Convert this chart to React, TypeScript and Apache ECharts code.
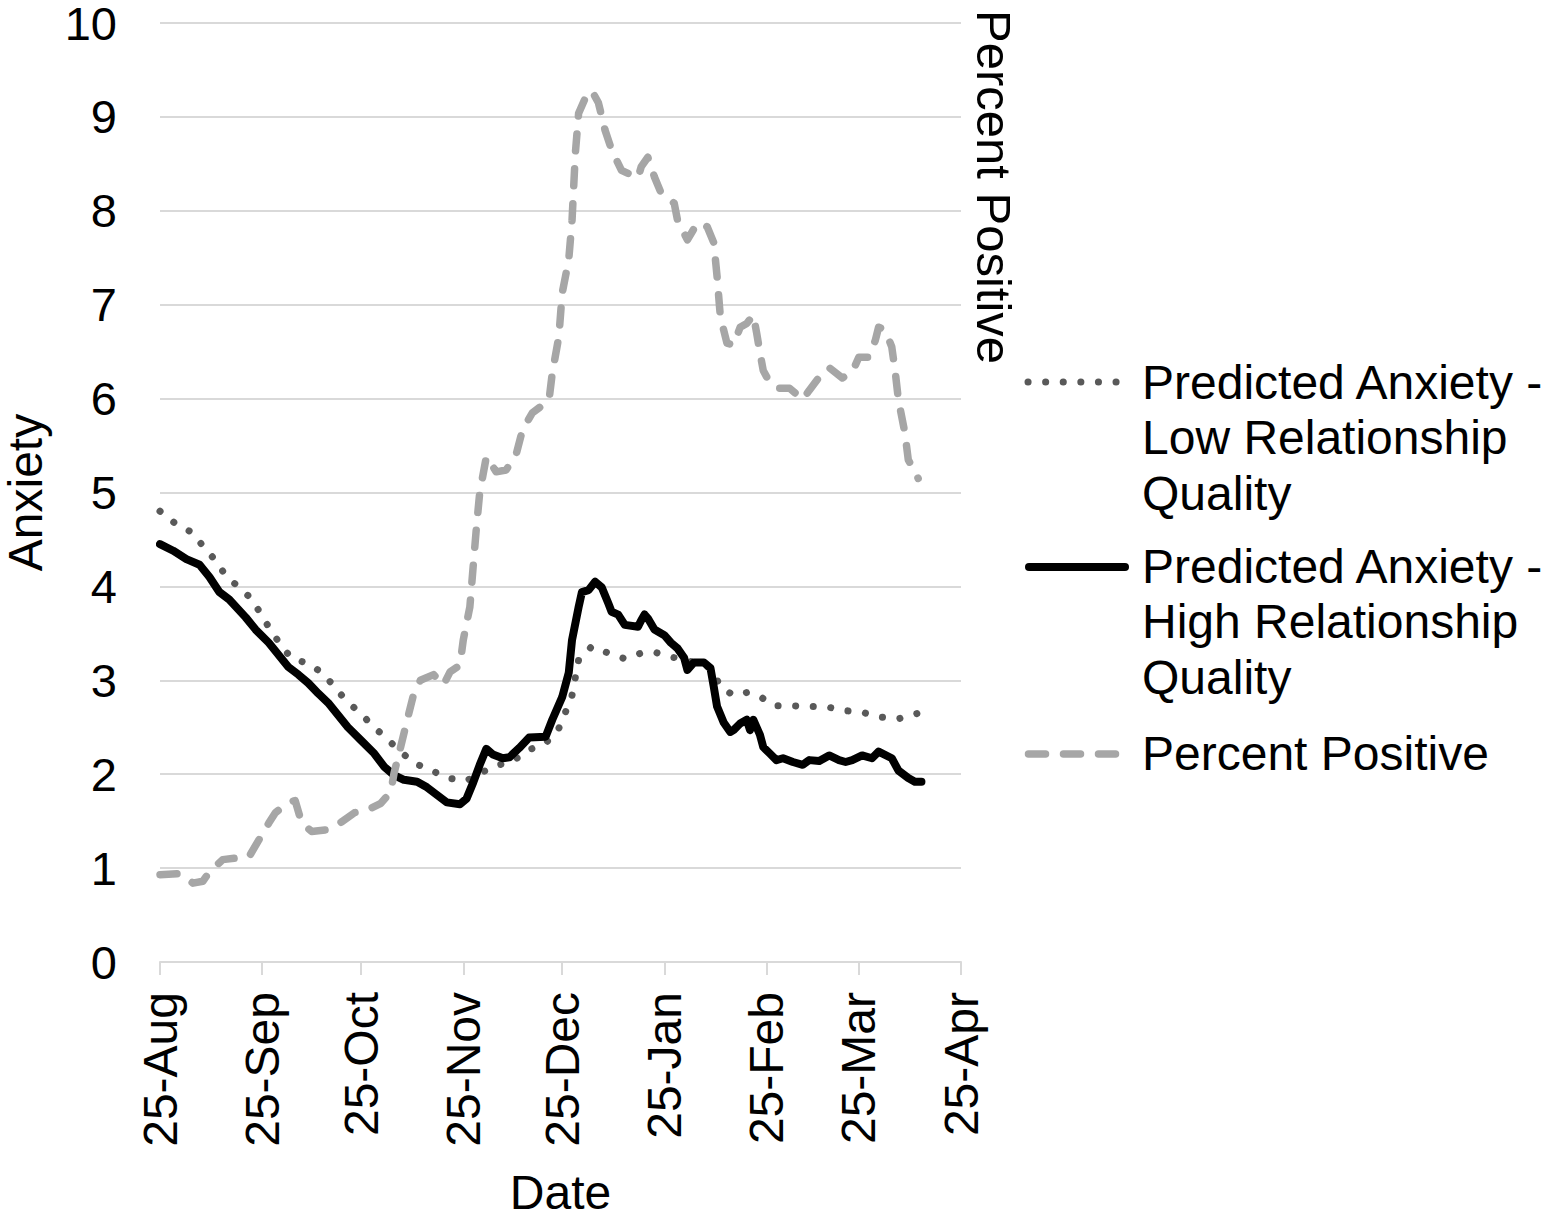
import React, { useEffect, useRef } from "react";
import * as echarts from "echarts";

const FONT = "'Liberation Sans', Arial, Helvetica, sans-serif";

const TICK_DATES = ["2020-08-25", "2020-09-25", "2020-10-25", "2020-11-25", "2020-12-25", "2021-01-25", "2021-02-25", "2021-03-25", "2021-04-25"];
const TICK_LABELS = ["25-Aug", "25-Sep", "25-Oct", "25-Nov", "25-Dec", "25-Jan", "25-Feb", "25-Mar", "25-Apr"];

const SERIES_NAMES = [
  "Predicted Anxiety -\nLow Relationship\nQuality",
  "Predicted Anxiety -\nHigh Relationship\nQuality",
  "Percent Positive",
];

const LOW_RQ: [string, number][] = [
  ["2020-08-25", 4.80], ["2020-08-30", 4.66], ["2020-09-04", 4.57], ["2020-09-07", 4.43],
  ["2020-09-11", 4.27], ["2020-09-14", 4.11], ["2020-09-18", 3.99], ["2020-09-22", 3.86],
  ["2020-09-25", 3.68], ["2020-09-28", 3.51], ["2020-10-01", 3.36], ["2020-10-04", 3.23],
  ["2020-10-09", 3.18], ["2020-10-14", 3.06], ["2020-10-17", 2.92], ["2020-10-21", 2.77],
  ["2020-10-25", 2.64], ["2020-10-29", 2.50], ["2020-11-02", 2.37], ["2020-11-06", 2.24],
  ["2020-11-10", 2.12], ["2020-11-16", 2.03], ["2020-11-20", 1.96], ["2020-11-26", 1.93],
  ["2020-11-30", 2.01], ["2020-12-05", 2.09], ["2020-12-10", 2.14], ["2020-12-15", 2.26],
  ["2020-12-20", 2.33], ["2020-12-24", 2.49], ["2020-12-26", 2.66], ["2020-12-28", 2.84],
  ["2020-12-29", 3.03], ["2020-12-30", 3.22], ["2021-01-03", 3.36], ["2021-01-08", 3.29],
  ["2021-01-13", 3.23], ["2021-01-18", 3.29], ["2021-01-22", 3.30], ["2021-01-27", 3.25],
  ["2021-02-02", 3.20], ["2021-02-07", 3.15], ["2021-02-09", 3.08], ["2021-02-11", 2.93],
  ["2021-02-15", 2.84], ["2021-02-19", 2.87], ["2021-02-23", 2.83], ["2021-02-27", 2.73],
  ["2021-03-04", 2.73], ["2021-03-10", 2.72], ["2021-03-15", 2.72], ["2021-03-20", 2.68],
  ["2021-03-26", 2.66], ["2021-03-31", 2.61], ["2021-04-06", 2.59], ["2021-04-12", 2.65],
];

const HIGH_RQ: [string, number][] = [
  ["2020-08-25", 4.45], ["2020-08-29", 4.38], ["2020-09-02", 4.29], ["2020-09-06", 4.23],
  ["2020-09-09", 4.10], ["2020-09-12", 3.94], ["2020-09-15", 3.86], ["2020-09-20", 3.67],
  ["2020-09-23", 3.54], ["2020-09-27", 3.40], ["2020-09-30", 3.27], ["2020-10-03", 3.14],
  ["2020-10-06", 3.06], ["2020-10-09", 2.97], ["2020-10-12", 2.86], ["2020-10-15", 2.76],
  ["2020-10-18", 2.63], ["2020-10-21", 2.50], ["2020-10-25", 2.36], ["2020-10-29", 2.22],
  ["2020-11-01", 2.08], ["2020-11-04", 1.99], ["2020-11-07", 1.94], ["2020-11-11", 1.92],
  ["2020-11-14", 1.86], ["2020-11-17", 1.78], ["2020-11-20", 1.70], ["2020-11-24", 1.68],
  ["2020-11-26", 1.74], ["2020-11-28", 1.91], ["2020-11-30", 2.10], ["2020-12-02", 2.27],
  ["2020-12-04", 2.21], ["2020-12-07", 2.17], ["2020-12-09", 2.18], ["2020-12-12", 2.28],
  ["2020-12-15", 2.39], ["2020-12-20", 2.40], ["2020-12-22", 2.58], ["2020-12-25", 2.82],
  ["2020-12-27", 3.08], ["2020-12-28", 3.43], ["2020-12-30", 3.78], ["2020-12-31", 3.94],
  ["2021-01-02", 3.96], ["2021-01-04", 4.05], ["2021-01-06", 3.99], ["2021-01-08", 3.82],
  ["2021-01-09", 3.73], ["2021-01-11", 3.70], ["2021-01-13", 3.59], ["2021-01-17", 3.57],
  ["2021-01-18", 3.64], ["2021-01-19", 3.70], ["2021-01-20", 3.66], ["2021-01-22", 3.54],
  ["2021-01-25", 3.48], ["2021-01-27", 3.40], ["2021-01-29", 3.34], ["2021-01-31", 3.24],
  ["2021-02-01", 3.11], ["2021-02-03", 3.19], ["2021-02-06", 3.19], ["2021-02-08", 3.13],
  ["2021-02-09", 2.93], ["2021-02-10", 2.72], ["2021-02-12", 2.55], ["2021-02-14", 2.45],
  ["2021-02-15", 2.47], ["2021-02-17", 2.54], ["2021-02-19", 2.58], ["2021-02-20", 2.47],
  ["2021-02-21", 2.58], ["2021-02-23", 2.42], ["2021-02-24", 2.29], ["2021-02-26", 2.22],
  ["2021-02-28", 2.15], ["2021-03-02", 2.17], ["2021-03-05", 2.13], ["2021-03-08", 2.10],
  ["2021-03-10", 2.15], ["2021-03-13", 2.14], ["2021-03-16", 2.20], ["2021-03-19", 2.15],
  ["2021-03-21", 2.13], ["2021-03-23", 2.15], ["2021-03-26", 2.20], ["2021-03-29", 2.17],
  ["2021-03-31", 2.24], ["2021-04-04", 2.17], ["2021-04-06", 2.04], ["2021-04-09", 1.96],
  ["2021-04-11", 1.92], ["2021-04-13", 1.92],
];

const PERCENT_POSITIVE: [string, number][] = [
  ["2020-08-25", 0.93], ["2020-08-31", 0.94], ["2020-09-04", 0.84], ["2020-09-07", 0.86],
  ["2020-09-09", 0.96], ["2020-09-13", 1.09], ["2020-09-18", 1.11], ["2020-09-21", 1.12],
  ["2020-09-24", 1.30], ["2020-09-27", 1.48], ["2020-09-29", 1.59], ["2020-10-03", 1.70],
  ["2020-10-05", 1.72], ["2020-10-07", 1.48], ["2020-10-10", 1.39], ["2020-10-15", 1.41],
  ["2020-10-19", 1.49], ["2020-10-23", 1.59], ["2020-10-27", 1.62], ["2020-10-31", 1.69],
  ["2020-11-03", 1.81], ["2020-11-04", 2.01], ["2020-11-06", 2.29], ["2020-11-08", 2.58],
  ["2020-11-10", 2.86], ["2020-11-12", 3.00], ["2020-11-16", 3.06], ["2020-11-19", 2.95],
  ["2020-11-21", 3.09], ["2020-11-24", 3.16], ["2020-11-25", 3.43], ["2020-11-27", 3.78],
  ["2020-11-28", 4.21], ["2020-11-29", 4.63], ["2020-11-30", 5.00], ["2020-12-02", 5.38],
  ["2020-12-05", 5.22], ["2020-12-08", 5.24], ["2020-12-11", 5.40], ["2020-12-13", 5.67],
  ["2020-12-16", 5.85], ["2020-12-21", 5.98], ["2020-12-22", 6.27], ["2020-12-24", 6.66],
  ["2020-12-25", 7.12], ["2020-12-27", 7.48], ["2020-12-28", 7.90], ["2020-12-29", 8.61],
  ["2020-12-30", 9.04], ["2021-01-01", 9.20], ["2021-01-03", 9.28], ["2021-01-05", 9.15],
  ["2021-01-07", 8.86], ["2021-01-09", 8.65], ["2021-01-12", 8.43], ["2021-01-17", 8.35],
  ["2021-01-18", 8.47], ["2021-01-20", 8.57], ["2021-01-22", 8.36], ["2021-01-24", 8.19],
  ["2021-01-28", 8.08], ["2021-01-29", 7.90], ["2021-02-01", 7.69], ["2021-02-04", 7.87],
  ["2021-02-07", 7.83], ["2021-02-09", 7.66], ["2021-02-10", 7.30], ["2021-02-11", 6.87],
  ["2021-02-13", 6.59], ["2021-02-15", 6.57], ["2021-02-17", 6.76], ["2021-02-19", 6.80],
  ["2021-02-21", 6.89], ["2021-02-22", 6.70], ["2021-02-23", 6.49], ["2021-02-24", 6.30],
  ["2021-02-26", 6.17], ["2021-03-01", 6.11], ["2021-03-04", 6.11], ["2021-03-08", 5.99],
  ["2021-03-10", 6.09], ["2021-03-13", 6.23], ["2021-03-16", 6.33], ["2021-03-20", 6.22],
  ["2021-03-23", 6.28], ["2021-03-25", 6.44], ["2021-03-28", 6.44], ["2021-03-30", 6.62],
  ["2021-03-31", 6.76], ["2021-04-02", 6.73], ["2021-04-04", 6.55], ["2021-04-05", 6.30],
  ["2021-04-06", 5.99], ["2021-04-08", 5.63], ["2021-04-09", 5.35], ["2021-04-12", 5.15],
];

const COLORS = { low: "#595959", high: "#000000", pct: "#a6a6a6", grid: "#d9d9d9", text: "#000000" };

// days elapsed since the first tick date (UTC, so no DST drift)
function dayIndex(s: string): number {
  const [y, m, d] = s.split("-").map(Number);
  const [y0, m0, d0] = TICK_DATES[0].split("-").map(Number);
  return Math.round((Date.UTC(y, m - 1, d) - Date.UTC(y0, m0 - 1, d0)) / 86400000);
}

export default function App() {
  const ref = useRef<HTMLDivElement>(null);

  useEffect(() => {
    if (!ref.current) return;
    const chart = echarts.init(ref.current, null, { renderer: "svg" });
    const tickDays = TICK_DATES.map(dayIndex);
    const toSeries = (arr: [string, number][]) => arr.map(([d, v]) => [dayIndex(d), v]);

    const legendText = (text: string, x: number, y: number) => ({
      type: "text",
      x,
      y,
      silent: true,
      style: {
        text,
        fontSize: 48,
        fontFamily: FONT,
        fill: COLORS.text,
        lineHeight: 55.5,
        align: "left",
        verticalAlign: "top",
        textAlign: "left",
        textVerticalAlign: "top",
      },
    });

    const option: any = {
      animation: false,
      textStyle: { fontFamily: FONT },
      grid: {
        left: 160,
        right: 598,
        top: 23,
        bottom: 253,
        containLabel: false,
        outerBoundsMode: "none",
      },
      xAxis: {
        type: "value",
        min: tickDays[0],
        max: tickDays[tickDays.length - 1],
        name: "Date",
        nameLocation: "middle",
        nameGap: 172 - 962 + 1000,
        nameTextStyle: { fontSize: 48, lineHeight: 40, color: COLORS.text, fontFamily: FONT },
        axisLine: { show: true, lineStyle: { color: COLORS.grid, width: 2 } },
        axisTick: {
          show: true,
          customValues: tickDays,
          length: 13,
          lineStyle: { color: COLORS.grid, width: 2 },
        },
        axisLabel: {
          customValues: tickDays,
          rotate: 90,
          margin: 30,
          fontSize: 48,
          color: COLORS.text,
          fontFamily: FONT,
          formatter: (val: number) => {
            const i = tickDays.indexOf(Math.round(val));
            return i >= 0 ? TICK_LABELS[i] : "";
          },
        },
        splitLine: { show: false },
      },
      yAxis: [
        {
          type: "value",
          min: 0,
          max: 10,
          interval: 1,
          name: "Anxiety",
          nameLocation: "middle",
          nameGap: 115,
          nameTextStyle: { fontSize: 48, lineHeight: 40, color: COLORS.text, fontFamily: FONT },
          axisLine: { show: false },
          axisTick: { show: false },
          axisLabel: { fontSize: 47, lineHeight: 36, color: COLORS.text, margin: 43, fontFamily: FONT },
          splitLine: { show: true, lineStyle: { color: COLORS.grid, width: 2 } },
        },
        {
          type: "value",
          min: 0,
          max: 10,
          interval: 1,
          position: "right",
          axisLine: { show: false },
          axisTick: { show: false },
          axisLabel: { show: false },
          splitLine: { show: false },
        },
      ],
      series: [
        {
          name: SERIES_NAMES[0],
          type: "line",
          yAxisIndex: 0,
          data: toSeries(LOW_RQ),
          symbol: "none",
          showSymbol: false,
          z: 2,
          lineStyle: { color: COLORS.low, width: 7, type: [0.1, 17.5], cap: "round", join: "round" },
        },
        {
          name: SERIES_NAMES[1],
          type: "line",
          yAxisIndex: 0,
          data: toSeries(HIGH_RQ),
          symbol: "none",
          showSymbol: false,
          z: 3,
          lineStyle: { color: COLORS.high, width: 8, cap: "round", join: "round" },
        },
        {
          name: SERIES_NAMES[2],
          type: "line",
          yAxisIndex: 1,
          data: toSeries(PERCENT_POSITIVE),
          symbol: "none",
          showSymbol: false,
          z: 4,
          lineStyle: { color: COLORS.pct, width: 7.5, type: [17, 18], cap: "round", join: "round" },
        },
      ],
      graphic: [
        {
          type: "text",
          x: 994,
          y: 10,
          rotation: -Math.PI / 2,
          silent: true,
          style: {
            text: "Percent Positive",
            fontSize: 49,
            fontFamily: FONT,
            fill: COLORS.text,
            align: "left",
            verticalAlign: "middle",
            textAlign: "left",
            textVerticalAlign: "middle",
          },
        },
        {
          type: "line",
          silent: true,
          shape: { x1: 1028, y1: 382, x2: 1118, y2: 382 },
          style: { stroke: COLORS.low, lineWidth: 7, lineDash: [0.1, 17.5], lineCap: "round" },
        },
        legendText(SERIES_NAMES[0], 1142, 354.25),
        {
          type: "line",
          silent: true,
          shape: { x1: 1029, y1: 567, x2: 1125, y2: 567 },
          style: { stroke: COLORS.high, lineWidth: 8, lineCap: "round" },
        },
        legendText(SERIES_NAMES[1], 1142, 538.25),
        {
          type: "line",
          silent: true,
          shape: { x1: 1028.5, y1: 754, x2: 1116, y2: 754 },
          style: { stroke: COLORS.pct, lineWidth: 7.5, lineDash: [17, 18], lineCap: "round" },
        },
        legendText(SERIES_NAMES[2], 1142, 725.25),
      ],
    };

    chart.setOption(option);
    return () => chart.dispose();
  }, []);

  return (
    <div
      ref={ref}
      style={{ position: "fixed", left: 0, top: 0, width: 1559, height: 1215, background: "#ffffff" }}
    />
  );
}
